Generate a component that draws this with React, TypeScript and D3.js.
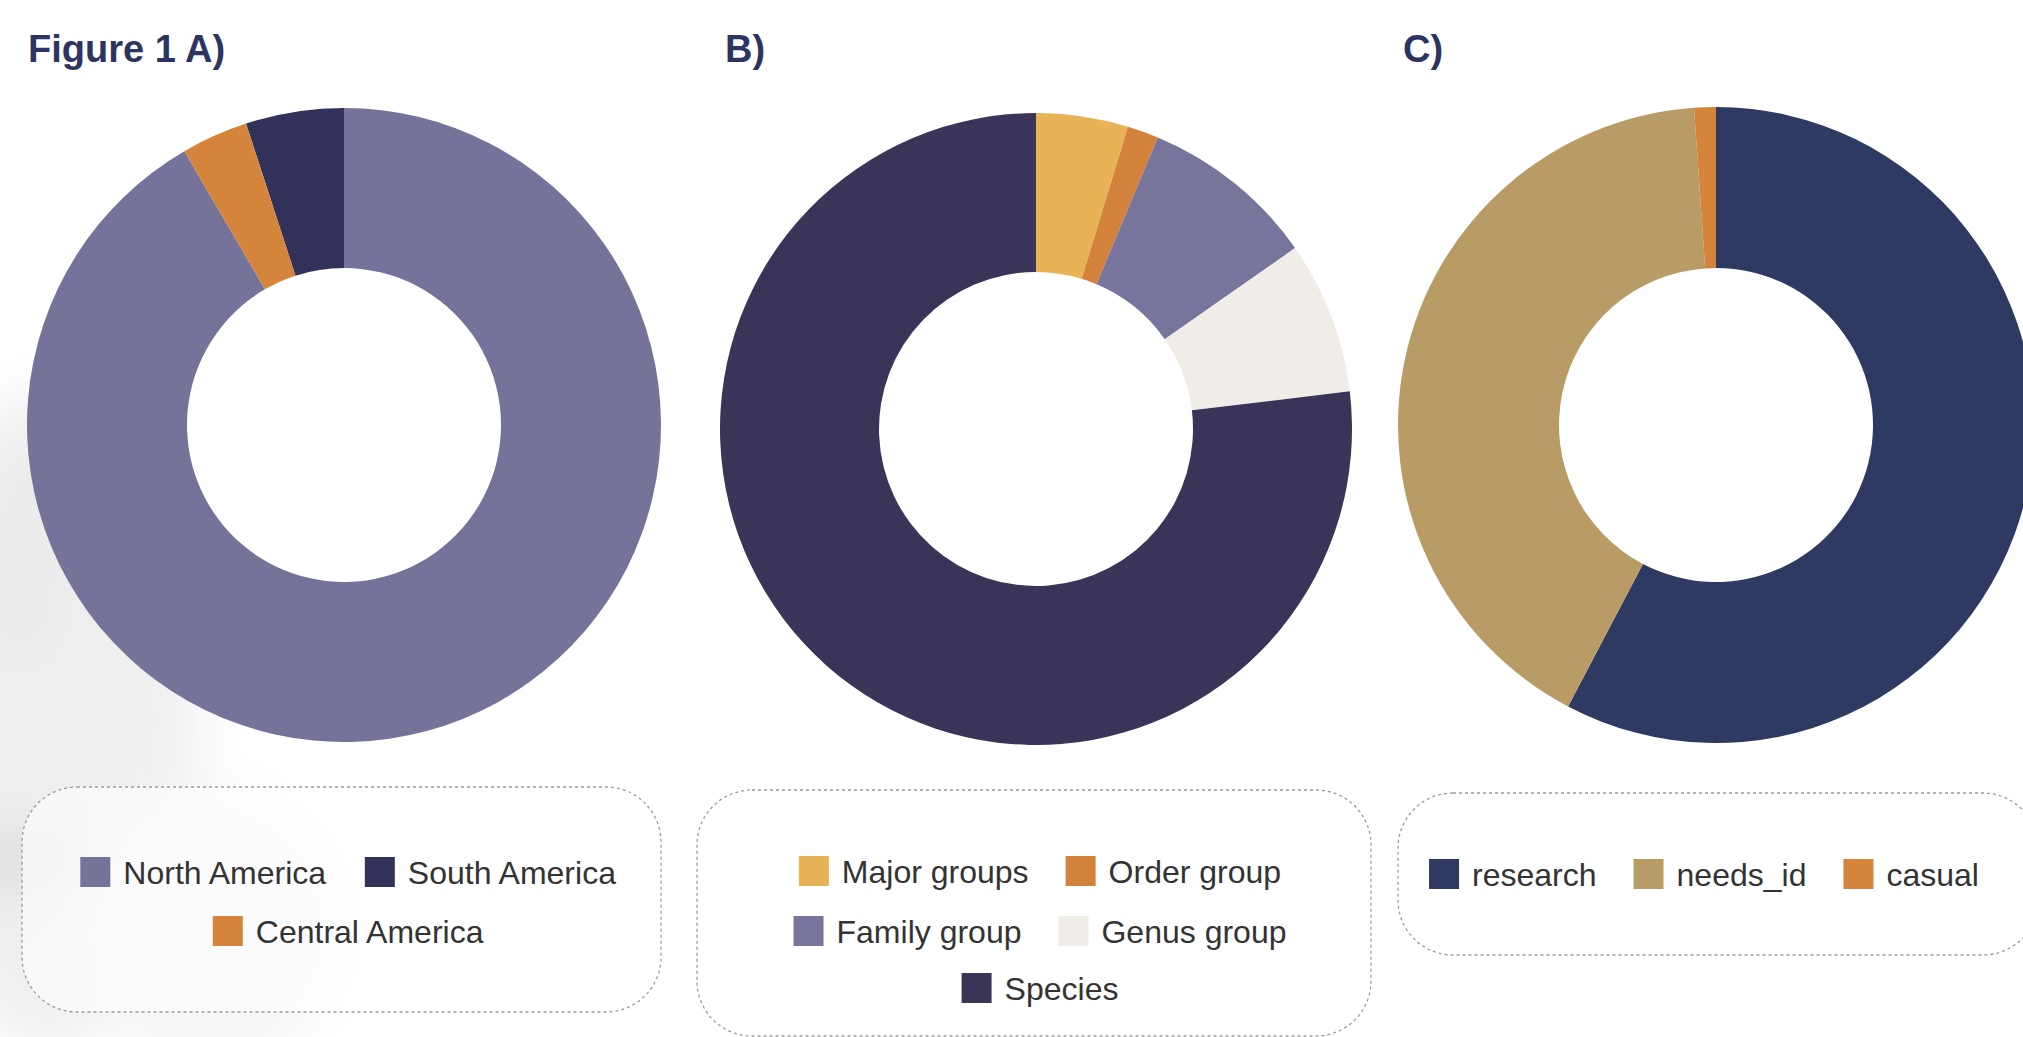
import React from 'react';
import * as d3 from 'd3';

// Figure 1 A) region of observations
const regionLabels = ['North America', 'South America', 'Central America'];
const regionValues = [91.6, 5.0, 3.4];
const regionColors = ['#75739a', '#31315a', '#d4843b'];
const regionDrawOrder = ['North America', 'Central America', 'South America'];
const regionRows = [['North America', 'South America'], ['Central America']];

// B) taxonomic level
const taxonLabels = ['Major groups', 'Order group', 'Family group', 'Genus group', 'Species'];
const taxonValues = [4.7, 1.6, 9.0, 7.8, 76.9];
const taxonColors = ['#e8b257', '#d2823a', '#77759b', '#f0ece7', '#3b3459'];
const taxonRows = [['Major groups', 'Order group'], ['Family group', 'Genus group'], ['Species']];

// C) quality grade
const gradeLabels = ['research', 'needs_id', 'casual'];
const gradeValues = [57.7, 41.2, 1.1];
const gradeColors = ['#2f3a63', '#b99c65', '#d4843b'];
const gradeRows = [['research', 'needs_id', 'casual']];

const W = 2023;
const H = 1037;
const FONT = '"Liberation Sans", Arial, Helvetica, sans-serif';
const LEGEND_SIZE = 32;

let ctx: CanvasRenderingContext2D | null = null;
const textWidth = (s: string) => {
  if (!ctx) ctx = document.createElement('canvas').getContext('2d');
  if (!ctx) return s.length * LEGEND_SIZE * 0.5;
  ctx.font = `${LEGEND_SIZE}px ${FONT}`;
  return ctx.measureText(s).width;
};

interface PanelProps {
  title: string;
  titleX: number;
  labels: string[];
  values: number[];
  colors: string[];
  order?: string[];
  rows: string[][];
  cx: number;
  cy: number;
  outer: number;
  inner: number;
  box: { x: number; y: number; w: number; h: number };
  legendCx: number;
  legendY: number[];
}

const Panel = (p: PanelProps) => {
  const items = p.labels.map((label, i) => ({ label, value: p.values[i] }));
  const color = d3.scaleOrdinal<string, string>().domain(p.labels).range(p.colors);
  const pie = d3
    .pie<{ label: string; value: number }>()
    .value(d => d.value)
    .sort(p.order ? (a, b) => p.order!.indexOf(a.label) - p.order!.indexOf(b.label) : null);
  const arc = d3
    .arc<d3.PieArcDatum<{ label: string; value: number }>>()
    .innerRadius(p.inner)
    .outerRadius(p.outer);

  const sw = 30;
  const gapIn = 13;
  const gapOut = 37;

  return (
    <g>
      <text x={p.titleX} y={62} fontFamily={FONT} fontWeight="bold" fontSize={38} fill="#2c3561">
        {p.title}
      </text>
      <g transform={`translate(${p.cx},${p.cy})`}>
        {pie(items).map(d => (
          <path key={d.data.label} d={arc(d) || ''} fill={color(d.data.label)} />
        ))}
      </g>
      <rect
        x={p.box.x}
        y={p.box.y}
        width={p.box.w}
        height={p.box.h}
        rx={55}
        ry={55}
        fill="rgba(255,255,255,0.6)"
        stroke="#9a9a9a"
        strokeWidth={1.3}
        strokeDasharray="3 3"
      />
      {p.rows.map((row, ri) => {
        const widths = row.map(l => sw + gapIn + textWidth(l));
        const total = d3.sum(widths) + gapOut * (row.length - 1);
        let x = p.legendCx - total / 2;
        const y = p.legendY[ri];
        return row.map((l, k) => {
          const x0 = x;
          x += widths[k] + gapOut;
          return (
            <g key={l}>
              <rect x={x0} y={y - sw / 2} width={sw} height={sw} fill={color(l)} />
              <text
                x={x0 + sw + gapIn}
                y={y}
                dy="0.36em"
                fontFamily={FONT}
                fontSize={LEGEND_SIZE}
                fill="#333"
              >
                {l}
              </text>
            </g>
          );
        });
      })}
    </g>
  );
};

const App = () => {
  return (
    <svg
      width={W}
      height={H}
      viewBox={`0 0 ${W} ${H}`}
      style={{ position: 'absolute', left: 0, top: 0, display: 'block', background: '#fff' }}
    >
      <defs>
        <filter id="blur" x="-50%" y="-50%" width="200%" height="200%">
          <feGaussianBlur stdDeviation="25" />
        </filter>
      </defs>
      {/* faint background photo */}
      <g filter="url(#blur)" opacity={0.45}>
        <ellipse cx={50} cy={720} rx={150} ry={330} fill="#dcdcdc" />
        <ellipse cx={210} cy={930} rx={130} ry={140} fill="#ebebeb" />
        <ellipse cx={15} cy={860} rx={70} ry={35} fill="#bdbdbd" />
        <ellipse cx={20} cy={560} rx={45} ry={110} fill="#d2d2d2" />
      </g>
      <Panel
        title="Figure 1 A)"
        titleX={28}
        labels={regionLabels}
        values={regionValues}
        colors={regionColors}
        order={regionDrawOrder}
        rows={regionRows}
        cx={344}
        cy={425}
        outer={317}
        inner={157}
        box={{ x: 22, y: 787, w: 639, h: 225 }}
        legendCx={349}
        legendY={[872, 931]}
      />
      <Panel
        title="B)"
        titleX={725}
        labels={taxonLabels}
        values={taxonValues}
        colors={taxonColors}
        rows={taxonRows}
        cx={1036}
        cy={429}
        outer={316}
        inner={157}
        box={{ x: 697, y: 790, w: 674, h: 246 }}
        legendCx={1040}
        legendY={[871, 931, 988]}
      />
      <Panel
        title="C)"
        titleX={1403}
        labels={gradeLabels}
        values={gradeValues}
        colors={gradeColors}
        rows={gradeRows}
        cx={1716}
        cy={425}
        outer={318}
        inner={157}
        box={{ x: 1398, y: 793, w: 640, h: 162 }}
        legendCx={1704}
        legendY={[874]}
      />
    </svg>
  );
};

export default App;
